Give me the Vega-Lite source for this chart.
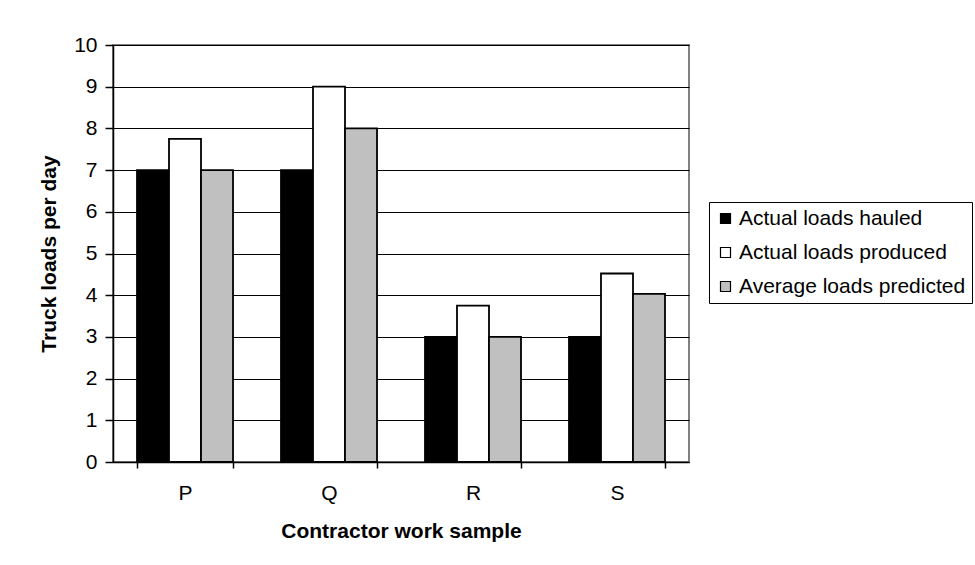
{
  "$schema": "https://vega.github.io/schema/vega-lite/v6.json",
  "autosize": "none",
  "width": 576,
  "height": 417,
  "padding": {"left": 113, "top": 45, "right": 286, "bottom": 103},
  "background": "white",
  "data": {
    "values": [
      {"sample": "P", "series": "Actual loads hauled", "loads": 7},
      {"sample": "P", "series": "Actual loads produced", "loads": 7.75},
      {"sample": "P", "series": "Average loads predicted", "loads": 7},
      {"sample": "Q", "series": "Actual loads hauled", "loads": 7},
      {"sample": "Q", "series": "Actual loads produced", "loads": 9},
      {"sample": "Q", "series": "Average loads predicted", "loads": 8},
      {"sample": "R", "series": "Actual loads hauled", "loads": 3},
      {"sample": "R", "series": "Actual loads produced", "loads": 3.75},
      {"sample": "R", "series": "Average loads predicted", "loads": 3},
      {"sample": "S", "series": "Actual loads hauled", "loads": 3},
      {"sample": "S", "series": "Actual loads produced", "loads": 4.52},
      {"sample": "S", "series": "Average loads predicted", "loads": 4.03}
    ]
  },
  "mark": {"type": "bar", "stroke": "black", "strokeWidth": 1.8},
  "encoding": {
    "x": {
      "field": "sample",
      "type": "nominal",
      "scale": {"paddingInner": 0.3333, "paddingOuter": 0.1667},
      "axis": {
        "title": "Contractor work sample",
        "labelAngle": 0,
        "tickBand": "extent",
        "labelPadding": 14,
        "titlePadding": 17
      }
    },
    "xOffset": {
      "field": "series",
      "type": "nominal",
      "scale": {"paddingInner": 0, "paddingOuter": 0}
    },
    "y": {
      "field": "loads",
      "type": "quantitative",
      "scale": {"domain": [0, 10]},
      "axis": {
        "title": "Truck loads per day",
        "values": [0, 1, 2, 3, 4, 5, 6, 7, 8, 9, 10],
        "grid": true,
        "tickSize": 8,
        "labelPadding": 8,
        "titlePadding": 14
      }
    },
    "fill": {
      "field": "series",
      "type": "nominal",
      "scale": {
        "domain": ["Actual loads hauled", "Actual loads produced", "Average loads predicted"],
        "range": ["#000000", "#ffffff", "#c0c0c0"]
      },
      "legend": {
        "title": null,
        "orient": "none",
        "legendX": 596,
        "legendY": 157,
        "symbolType": "square",
        "symbolSize": 100,
        "symbolStrokeColor": "black",
        "symbolStrokeWidth": 1.2,
        "labelFontSize": 21,
        "labelFont": "Liberation Sans",
        "labelColor": "black",
        "labelLimit": 400,
        "rowPadding": 12,
        "labelOffset": 3,
        "padding": 6,
        "strokeColor": "black",
        "fillColor": "white"
      }
    }
  },
  "config": {
    "font": "Liberation Sans",
    "view": {"stroke": "#808080", "strokeWidth": 2},
    "axis": {
      "domainColor": "black",
      "domainWidth": 1.5,
      "tickColor": "black",
      "tickSize": 6,
      "tickWidth": 1.5,
      "gridColor": "black",
      "gridWidth": 1,
      "gridOpacity": 1,
      "labelFont": "Liberation Sans",
      "labelFontSize": 21,
      "labelColor": "black",
      "titleFont": "Liberation Sans",
      "titleFontSize": 21,
      "titleFontWeight": "bold",
      "titleColor": "black"
    }
  }
}
